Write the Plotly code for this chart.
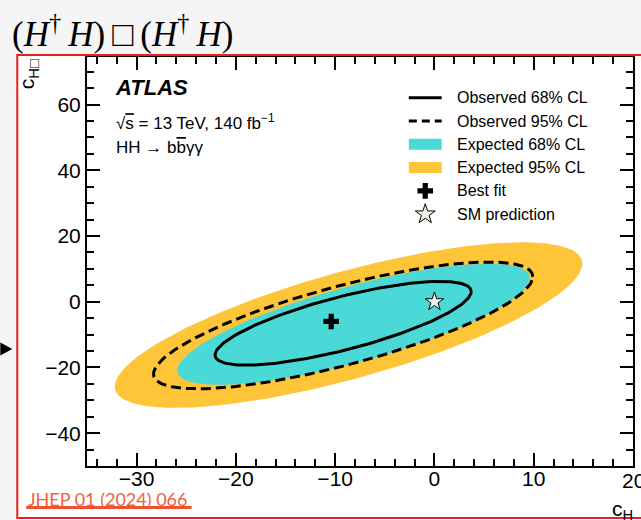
import numpy as np
import plotly.graph_objects as go

# ---- values --------------------------------------------------------------
# contour extents in (c_H, c_H□): x-min, x-max, y-min, y-max and the y value
# at the right-most point of each contour
contour_names = ["Expected 95% CL", "Expected 68% CL", "Observed 95% CL", "Observed 68% CL"]
contour_xmin = [-32.2, -25.9, -28.3, -22.1]
contour_xmax = [14.9, 9.6, 9.9, 3.7]
contour_ymin = [-32.3, -25.3, -26.5, -19.3]
contour_ymax = [18.1, 11.6, 12.1, 6.2]
contour_y_at_xmax = [11.6, 7.2, 7.6, 3.1]

best_fit = [-10.4, -6.0]
sm_point = [0.0, 0.0]

x_range = [-35, 20]
y_range = [-50, 74.5]
x_ticks = [-30, -20, -10, 0, 10, 20]
x_tick_text = ["−30", "−20", "−10", "0", "10", "20"]
y_ticks = [-40, -20, 0, 20, 40, 60]

# ---- page geometry ------------------------------------------------------
W, H = 641, 520
L, R, T, B = 87, 6, 57, 54
PW, PH = W - L - R, H - T - B

CYAN = "#4bd9d8"
GOLD = "#fdc537"
STAR_FILL = "#f1f6ea"
FONT = "Liberation Sans, Arial, Helvetica, sans-serif"


def px(x):
    return (x - L) / PW


def py(y):
    return (H - B - y) / PH


def contour_curve(i, n=241):
    cx = 0.5 * (contour_xmin[i] + contour_xmax[i])
    cy = 0.5 * (contour_ymin[i] + contour_ymax[i])
    a = 0.5 * (contour_xmax[i] - contour_xmin[i])
    b = 0.5 * (contour_ymax[i] - contour_ymin[i])
    phi = np.arccos(np.clip((contour_y_at_xmax[i] - cy) / b, -1, 1))
    t = np.linspace(0, 2 * np.pi, n)
    return cx + a * np.cos(t), cy + b * np.cos(t - phi)


fig = go.Figure()

# filled expected regions
for i, col in [(0, GOLD), (1, CYAN)]:
    xs, ys = contour_curve(i)
    fig.add_trace(go.Scatter(x=xs, y=ys, mode="lines", fill="toself",
                             fillcolor=col, line=dict(color=col, width=0),
                             name=contour_names[i], hoverinfo="skip"))

# observed contours
xs, ys = contour_curve(2)
fig.add_trace(go.Scatter(x=xs, y=ys, mode="lines", name=contour_names[2],
                         line=dict(color="black", width=3, dash="10px,5px")))
xs, ys = contour_curve(3)
fig.add_trace(go.Scatter(x=xs, y=ys, mode="lines", name=contour_names[3],
                         line=dict(color="black", width=3)))

# points
fig.add_trace(go.Scatter(x=[best_fit[0]], y=[best_fit[1]], mode="markers",
                         name="Best fit",
                         marker=dict(symbol="cross", size=13, color="black",
                                     line=dict(width=0))))
fig.add_trace(go.Scatter(x=[sm_point[0]], y=[sm_point[1]], mode="markers",
                         name="SM prediction",
                         marker=dict(symbol="star", size=14, color=STAR_FILL,
                                     line=dict(color="black", width=1))))

# ---- legend keys drawn on a pixel-scaled overlay -------------------------
leg_top, leg_step = 97.7, 23.3
key_x0, key_x1, key_text = 410, 443, 456
rows = [leg_top + k * leg_step for k in range(6)]
legend_labels = ["Observed 68% CL", "Observed 95% CL", "Expected 68% CL",
                 "Expected 95% CL", "Best fit", "SM prediction"]

fig.add_trace(go.Scatter(x=[key_x0, key_x1], y=[rows[0], rows[0]], mode="lines",
                         xaxis="x2", yaxis="y2", hoverinfo="skip",
                         line=dict(color="black", width=3)))
fig.add_trace(go.Scatter(x=[key_x0, key_x1], y=[rows[1], rows[1]], mode="lines",
                         xaxis="x2", yaxis="y2", hoverinfo="skip",
                         line=dict(color="black", width=3, dash="8px,5px")))
kx = 0.5 * (key_x0 + key_x1)
fig.add_trace(go.Scatter(x=[kx], y=[rows[4]], mode="markers", xaxis="x2", yaxis="y2",
                         hoverinfo="skip",
                         marker=dict(symbol="cross", size=13, color="black")))
fig.add_trace(go.Scatter(x=[kx], y=[rows[5]], mode="markers", xaxis="x2", yaxis="y2",
                         hoverinfo="skip",
                         marker=dict(symbol="star", size=15, color=STAR_FILL,
                                     line=dict(color="black", width=1))))

shapes = []
for r, col in [(rows[2], CYAN), (rows[3], GOLD)]:
    shapes.append(dict(type="rect", xref="paper", yref="paper",
                       x0=px(key_x0), x1=px(key_x1), y0=py(r + 5.5), y1=py(r - 5.5),
                       fillcolor=col, line=dict(width=0)))

annotations = []
for r, lab in zip(rows, legend_labels):
    annotations.append(dict(text=lab, x=px(key_text), y=py(r), xref="paper", yref="paper",
                            xanchor="left", yanchor="middle", showarrow=False,
                            font=dict(family=FONT, size=16, color="black")))

# the last x tick label sits on the right page edge and is clipped there
annotations.append(dict(text=x_tick_text[-1], x=x_ticks[-1], xref="x", y=py(480.5),
                        yref="paper", xanchor="center", yanchor="middle", showarrow=False,
                        font=dict(family=FONT, size=21, color="black")))

# ---- page decoration -----------------------------------------------------
shapes += [
    dict(type="rect", xref="paper", yref="paper", layer="below",
         x0=px(-5), x1=px(W + 5), y0=py(55), y1=py(-5),
         fillcolor="#f5f5f5", line=dict(width=0)),
    dict(type="rect", xref="paper", yref="paper", layer="below",
         x0=px(-5), x1=px(16), y0=py(H + 5), y1=py(55),
         fillcolor="#f5f5f5", line=dict(width=0)),
    dict(type="rect", xref="paper", yref="paper",
         x0=px(17), x1=px(W + 10), y0=py(518), y1=py(55),
         fillcolor="rgba(0,0,0,0)", line=dict(color="#ee1c1c", width=2)),
    dict(type="path", xref="paper", yref="paper",
         path=f"M {px(0)},{py(342.5)} L {px(12)},{py(349)} L {px(0)},{py(355.5)} Z",
         fillcolor="black", line=dict(width=0)),
    dict(type="line", xref="paper", yref="paper",
         x0=px(26), x1=px(192), y0=py(507.5), y1=py(507.5),
         line=dict(color="#f0512e", width=3)),
]

TS = "\u2009"  # thin space
annotations += [
    dict(text=f"(<i>H</i><sup>†</sup>{TS}<i>H</i>){TS}□{TS}(<i>H</i><sup>†</sup>{TS}<i>H</i>)",
         x=px(10), y=py(31), xref="paper", yref="paper", xanchor="left", yanchor="middle",
         showarrow=False, font=dict(family="Liberation Serif, Times New Roman, serif",
                                    size=35, color="black")),
    dict(text="<b><i>ATLAS</i></b>", x=px(113), y=py(87), xref="paper", yref="paper",
         xanchor="left", yanchor="middle", showarrow=False,
         font=dict(family=FONT, size=22, color="black")),
    dict(text="√<span style='text-decoration:overline'>s</span> = 13 TeV, 140 fb<sup>−1</sup>",
         x=px(114), y=py(122), xref="paper", yref="paper",
         xanchor="left", yanchor="middle", showarrow=False,
         font=dict(family=FONT, size=17, color="black")),
    dict(text="HH → b<span style='text-decoration:overline'>b</span>γγ",
         x=px(114), y=py(147), xref="paper", yref="paper",
         xanchor="left", yanchor="middle", showarrow=False,
         font=dict(family=FONT, size=17, color="black")),
    dict(text="c<sub>H□</sub>", x=px(28), y=py(57), xref="paper", yref="paper",
         xanchor="center", yanchor="top", textangle=-90, showarrow=False,
         font=dict(family=FONT, size=21, color="black")),
    dict(text="c<sub>H</sub>", x=px(612), y=py(525), xref="paper", yref="paper",
         xanchor="left", yanchor="bottom", showarrow=False,
         font=dict(family=FONT, size=21, color="black")),
    dict(text="JHEP 01 (2024) 066", x=px(26), y=py(499), xref="paper", yref="paper",
         xanchor="left", yanchor="middle", showarrow=False,
         font=dict(family="Lato, Open Sans, sans-serif", size=18, color="#f0603e")),
]

axis_common = dict(showline=True, linecolor="black", linewidth=2, mirror="allticks",
                   ticks="inside", ticklen=13, tickwidth=2, tickcolor="black",
                   showgrid=False, zeroline=False,
                   tickfont=dict(family=FONT, size=21, color="black"))

fig.update_layout(
    width=W, height=H,
    margin=dict(l=L, r=R, t=T, b=B),
    paper_bgcolor="white", plot_bgcolor="white",
    showlegend=False,
    shapes=shapes, annotations=annotations,
    xaxis=dict(range=x_range, tickvals=x_ticks[:-1], ticktext=x_tick_text[:-1],
               ticklabelstandoff=-7, **axis_common,
               minor=dict(tickvals=list(range(-34, 21, 2)), ticklen=7, tickwidth=1.5,
                          tickcolor="black", ticks="inside", showgrid=False)),
    yaxis=dict(range=y_range, tickvals=y_ticks, **axis_common,
               minor=dict(dtick=5, ticklen=7, tickwidth=1.5, tickcolor="black",
                          ticks="inside", showgrid=False)),
    xaxis2=dict(range=[L, W - R], overlaying="x", visible=False, fixedrange=True),
    yaxis2=dict(range=[H - B, T], overlaying="y", visible=False, fixedrange=True),
)

fig.write_html("out.html")
